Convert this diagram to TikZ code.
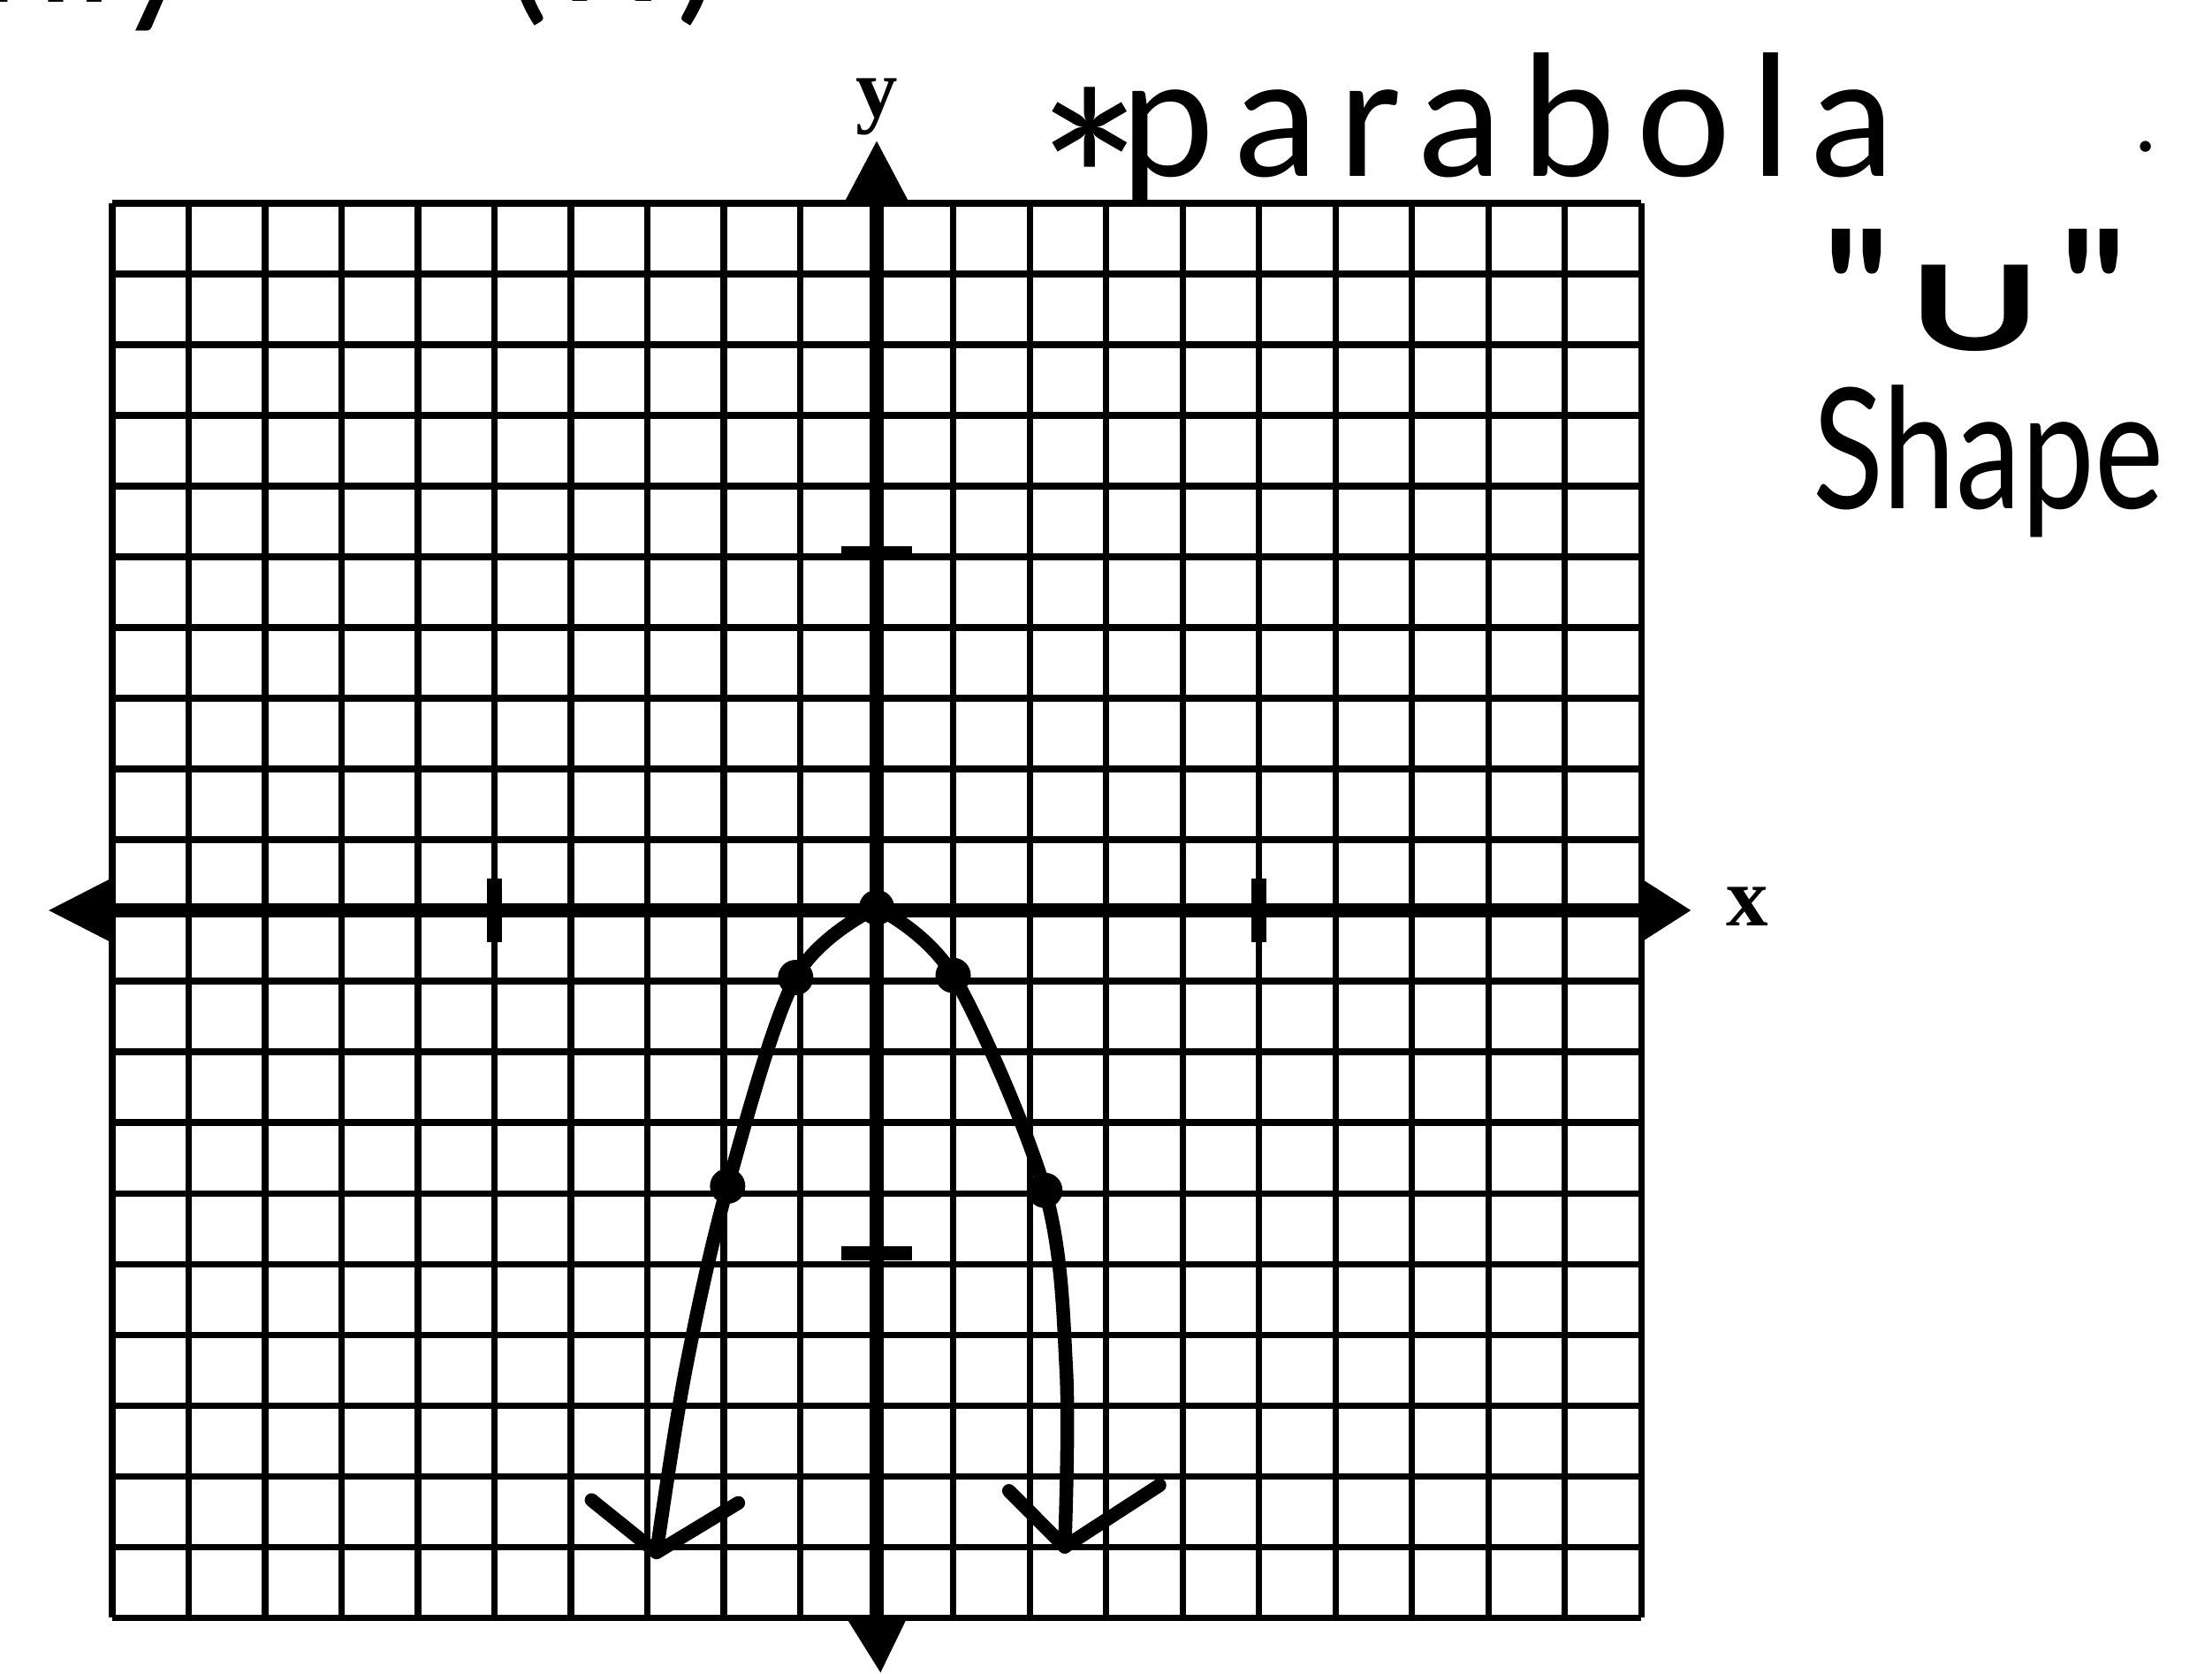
\documentclass[tikz,border=0pt]{standalone}
\usepackage{fontspec}
\setmainfont{Lato}
\newfontfamily\handfont{Lato}
\newfontfamily\labfont{Liberation Serif}
\begin{document}
\begin{tikzpicture}[
  gridline/.style={line width=2pt},
  axisline/.style={line width=4.4pt},
  curveline/.style={line width=4.4pt, line cap=round, line join=round},
  tickbar/.style={line width=4.8pt},
  hand/.style={font=\fontsize{54}{60}\selectfont, inner sep=0pt},
  axlabel/.style={font=\labfont\bfseries\fontsize{27}{30}\selectfont, inner sep=0pt},
  ptdot/.style={circle, fill=black, inner sep=0pt, minimum size=0.40cm},
]
\useasboundingbox (0,0) rectangle (25.03,-18.94);
\fill[white] (0,0) rectangle (25.03,-18.94);

% cut-off text at the top
\node[hand, anchor=base east] (only) at (2.28,-0.03) {only};
\node[hand, anchor=base west] (fx) at (5.70,-0.02) {\addfontfeature{LetterSpace=13}(x)};

\begin{scope}[shift={(9.92,-10.30)}, x=0.865cm, y=0.8cm]
  % grid
  \foreach \i in {-10,...,10} {
    \draw[gridline] (\i,-10) -- (\i,10);
    \draw[gridline] (-10,\i) -- (10,\i);
  }
  % axes
  \coordinate (xl) at (-10,0);
  \coordinate (xr) at (10,0);
  \coordinate (yb) at (0,-10);
  \coordinate (yt) at (0,10);
  \draw[axisline] (xl) -- (xr);
  \draw[axisline] (yb) -- (yt);
  \fill (-10,0.46) -- (-10.83,0) -- (-10,-0.46) -- cycle;
  \fill (10,0.45) -- (10.65,0) -- (10,-0.45) -- cycle;
  \fill (-0.43,10) -- (0,10.88) -- (0.43,10) -- cycle;
  \fill (-0.40,-10) -- (0.05,-10.78) -- (0.40,-10) -- cycle;
  % ticks
  \draw[tickbar] (-5,-0.45) -- (-5,0.45);
  \draw[tickbar] (5,-0.45) -- (5,0.45);
  \draw[tickbar] (-0.46,5.05) -- (0.46,5.05);
  \draw[tickbar] (-0.46,-4.85) -- (0.46,-4.85);
  % labels
  \node[axlabel] (xlab) at (11.39,0.05) {x};
  \node[axlabel] (ylab) at (0,11.36) {y};
  % points
  \coordinate (v0) at (0,0.04);
  \coordinate (l1) at (-1.06,-0.95);
  \coordinate (r1) at (1.0,-0.92);
  \coordinate (l2) at (-1.95,-3.9);
  \coordinate (r2) at (2.2,-3.96);
  \coordinate (ltip) at (-2.88,-9.08);
  \coordinate (rtip) at (2.46,-9.0);
  % parabola
  \draw[curveline] plot[smooth, tension=0.55] coordinates {(ltip) (-2.5,-6.5) (l2) (l1) (v0)};
  \draw[curveline] plot[smooth, tension=0.55] coordinates {(v0) (r1) (r2) (2.48,-6.5) (rtip)};
  % arrow V's
  \draw[curveline] (-3.73,-8.34) -- (ltip) -- (-1.81,-8.38);
  \draw[curveline] (1.73,-8.21) -- (rtip) -- (3.70,-8.13);
  \node[ptdot] (p0) at (v0) {};
  \node[ptdot] (pl1) at (l1) {};
  \node[ptdot] (pr1) at (r1) {};
  \node[ptdot] (pl2) at (l2) {};
  \node[ptdot] (pr2) at (r2) {};
\end{scope}

% annotations
\node[font=\fontsize{80}{80}\selectfont, inner sep=0pt, anchor=north] (star) at (12.33,-0.98) {*};
\node[hand, anchor=base west] (parab) at (12.68,-2.00) {\addfontfeature{LetterSpace=12}parabola};
\node[font=\fontsize{28}{30}\selectfont, inner sep=0pt, anchor=base] (dot) at (24.28,-1.72) {.};
\node[font=\handfont\bfseries\fontsize{54}{60}\selectfont, inner sep=0pt, anchor=base] (ushape) at (22.35,-3.97) {"\hspace{0.22cm}{\fontsize{38}{40}\selectfont\scalebox{1.5}[1]{U}}\hspace{0.22cm}"};
\node[hand, anchor=base west] (shape) at (20.51,-5.75) {\scalebox{0.78}[1]{Shape}};
\end{tikzpicture}
\end{document}
